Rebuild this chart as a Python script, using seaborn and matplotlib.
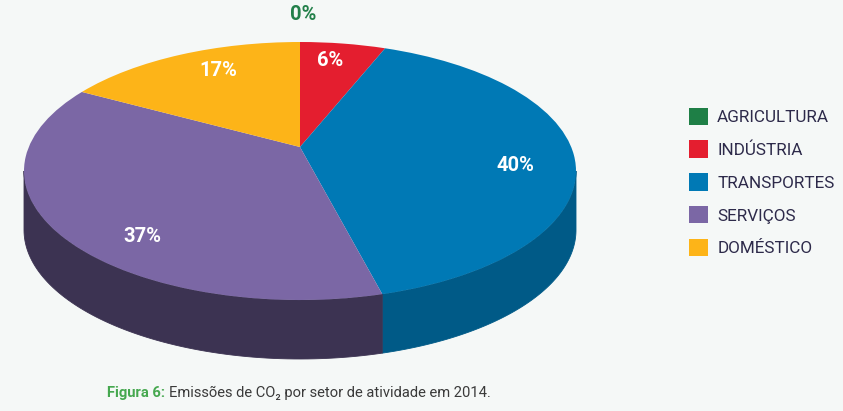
import numpy as np
import matplotlib
matplotlib.use("Agg")
import matplotlib.pyplot as plt
import matplotlib.transforms as mtransforms
from matplotlib.patches import Patch
import seaborn as sns

# ---------------- data ----------------
sectors = ["AGRICULTURA", "INDÚSTRIA", "TRANSPORTES", "SERVIÇOS", "DOMÉSTICO"]
shares = [0, 6, 40, 37, 17]
pct_labels = ["0%", "6%", "40%", "37%", "17%"]

# ---------------- style ----------------
top_colors = ["#1E7F46", "#E41E2F", "#0079B5", "#7B67A5", "#FDB418"]
side_colors = ["#145A31", "#A3141F", "#005A87", "#3C3352", "#B8830F"]
label_colors = ["#23804A", "white", "white", "white", "white"]
# label centres in figure pixels (x, y from top)
label_pos = [(303, 15), (330, 60), (515, 165), (142, 236), (218, 70)]
BG = "#F5F8F7"

sns.set_theme(style="white")
plt.rcParams["font.family"] = ["Roboto", "DejaVu Sans"]

W, H = 843, 411
fig = plt.figure(figsize=(W / 100, H / 100), dpi=100, facecolor=BG)
ax = fig.add_axes([0, 0, 1, 1])
ax.set_facecolor(BG)

# ellipse geometry (pixels)
CX, CY, RX, RY = 300, 171, 276, 129
DEPTH = 59 / RY
K = 0.186  # perspective strength


class Tilt(mtransforms.Transform):
    input_dims = 2
    output_dims = 2
    is_separable = False
    has_inverse = False

    def __init__(self, k):
        super().__init__()
        self.k = k

    def transform_non_affine(self, values):
        v = np.asarray(values, dtype=float)
        u, w = v[:, 0], v[:, 1]
        d = 1 + self.k * w
        return np.column_stack([np.sqrt(1 - self.k ** 2) * u / d, (w + self.k) / d])


tilt = Tilt(K)

wedges, _ = ax.pie(shares, colors=top_colors, startangle=90, counterclock=False,
                   radius=1, wedgeprops=dict(linewidth=0))

# side faces (visible front rim)
vis_lo = -180 + np.degrees(np.arcsin(K))
vis_hi = -np.degrees(np.arcsin(K))
for wdg, sc in zip(wedges, side_colors):
    t1, t2 = wdg.theta1, wdg.theta2
    for sh in (-360, 0, 360):
        a, b = max(t1 + sh, vis_lo), min(t2 + sh, vis_hi)
        if b - a <= 0:
            continue
        tt = np.radians(np.linspace(a, b, 80))
        top = tilt.transform(np.column_stack([np.cos(tt), np.sin(tt)]))
        bot = top[::-1] - np.array([0, DEPTH])
        poly = np.vstack([top, bot])
        ax.fill(poly[:, 0], poly[:, 1], color=sc, lw=0.6, ec=sc, zorder=1)

for wdg in wedges:
    wdg.set_transform(tilt + ax.transData)
    wdg.set_zorder(2)

ax.set_aspect("auto")
ax.set_xlim(-CX / RX, (W - CX) / RX)
ax.set_ylim((CY - H) / RY, CY / RY)
ax.axis("off")

# percentage labels
for lab, col, (px, py) in zip(pct_labels, label_colors, label_pos):
    fig.text(px / W, 1 - py / H, lab, color=col, fontsize=14.5, fontweight="bold",
             ha="center", va="center")

# legend
handles = [Patch(facecolor=c, edgecolor="none") for c in top_colors]
leg = fig.legend(handles, sectors, loc="center left",
                 bbox_to_anchor=(689 / W, 1 - 182 / H), frameon=False,
                 fontsize=12.3, handlelength=1.12, handleheight=1.18,
                 handletextpad=0.53, labelspacing=0.9, borderpad=0, borderaxespad=0)
for t in leg.get_texts():
    t.set_color("#2D2A4A")

# caption
renderer = fig.canvas.get_renderer()
t1 = fig.text(107 / W, 1 - 393 / H, "Figura 6:", color="#45A84F", fontsize=10.6,
              fontweight="bold", ha="left", va="center")
bb = t1.get_window_extent(renderer)
fig.text((bb.x1 + 4) / W, 1 - 393 / H, "Emissões de CO₂ por setor de atividade em 2014.",
         color="#3A3A3A", fontsize=10.6, ha="left", va="center")

fig.savefig("out.png", dpi=100, facecolor=BG)
